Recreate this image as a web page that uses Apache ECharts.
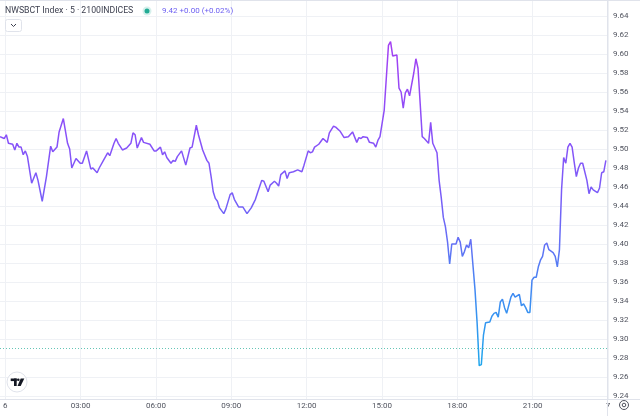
<!DOCTYPE html>
<html>
<head>
<meta charset="utf-8">
<script src="https://cdn.jsdelivr.net/npm/echarts@6/dist/echarts.min.js"></script>
<style>
  html, body { margin: 0; padding: 0; background: #fff; }
  #chart { width: 640px; height: 416px; }
</style>
</head>
<body>
<div id="chart"></div>
<script>
// 5 min bars
const times = [
  '00:00','00:10','00:15','00:20','00:30','00:35','00:40','00:45','00:50','00:55',
  '01:00','01:05','01:15','01:25','01:30','01:40','01:50','02:00','02:05','02:15',
  '02:20','02:30','02:40','02:45','02:50','03:00','03:10','03:15','03:25','03:35',
  '03:40','03:50','03:55','04:05','04:15','04:20','04:30','04:35','04:40','04:50',
  '05:00','05:10','05:15','05:20','05:25','05:35','05:40','05:55','06:05','06:10',
  '06:20','06:25','06:30','06:35','06:45','06:50','06:55','07:00','07:10','07:20',
  '07:30','07:35','07:45','07:50','08:00','08:10','08:15','08:20','08:25','08:30',
  '08:35','08:40','08:50','08:55','09:05','09:10','09:15','09:25','09:35','09:45',
  '09:55','10:05','10:10','10:20','10:25','10:35','10:40','10:50','10:55','11:00',
  '11:05','11:15','11:20','11:25','11:35','11:45','11:55','12:00','12:10','12:15',
  '12:20','12:25','12:35','12:45','12:55','13:00','13:10','13:15','13:25','13:35',
  '13:45','13:55','14:05','14:10','14:15','14:20','14:30','14:35','14:45','14:50',
  '14:55','15:00','15:10','15:20','15:25','15:30','15:40','15:45','15:50','15:55',
  '16:00','16:05','16:10','16:20','16:25','16:30','16:40','16:45','16:55','17:00',
  '17:05','17:10','17:15','17:20','17:25','17:30','17:35','17:40','17:45','17:50',
  '18:00','18:05','18:10','18:15','18:20','18:25','18:30','18:35','18:45','18:50',
  '18:55','19:00','19:05','19:10','19:20','19:25','19:30','19:35','19:40','19:45',
  '19:50','19:55','20:00','20:10','20:15','20:20','20:30','20:35','20:40','20:45',
  '20:50','20:55','21:00','21:05','21:10','21:15','21:20','21:25','21:30','21:35',
  '21:40','21:50','21:55','22:00','22:05','22:10','22:15','22:20','22:25','22:30',
  '22:35','22:40','22:45','22:50','22:55','23:00','23:10','23:15','23:20','23:25',
  '23:35','23:40','23:45','23:50','23:55'
];
const values = [
  9.513, 9.511, 9.515, 9.506, 9.505, 9.499, 9.506, 9.502, 9.502, 9.494,
  9.498, 9.492, 9.464, 9.475, 9.467, 9.445, 9.471, 9.503, 9.497, 9.502,
  9.518, 9.532, 9.506, 9.500, 9.480, 9.490, 9.485, 9.485, 9.498, 9.479,
  9.480, 9.475, 9.480, 9.488, 9.496, 9.493, 9.506, 9.511, 9.506, 9.499,
  9.501, 9.506, 9.517, 9.515, 9.501, 9.512, 9.507, 9.505, 9.498, 9.498,
  9.502, 9.494, 9.497, 9.491, 9.485, 9.488, 9.487, 9.492, 9.498, 9.483,
  9.501, 9.502, 9.525, 9.515, 9.499, 9.488, 9.485, 9.471, 9.455, 9.448,
  9.445, 9.438, 9.432, 9.437, 9.452, 9.454, 9.447, 9.439, 9.439, 9.432,
  9.438, 9.447, 9.454, 9.467, 9.466, 9.455, 9.462, 9.466, 9.464, 9.461,
  9.473, 9.477, 9.469, 9.475, 9.476, 9.478, 9.476, 9.483, 9.498, 9.496,
  9.497, 9.502, 9.505, 9.511, 9.507, 9.517, 9.524, 9.523, 9.519, 9.512,
  9.513, 9.518, 9.507, 9.512, 9.511, 9.513, 9.512, 9.507, 9.506, 9.502,
  9.509, 9.513, 9.541, 9.609, 9.613, 9.598, 9.599, 9.564, 9.560, 9.543,
  9.559, 9.563, 9.556, 9.580, 9.595, 9.585, 9.513, 9.511, 9.506, 9.528,
  9.506, 9.501, 9.496, 9.467, 9.449, 9.428, 9.418, 9.402, 9.379, 9.400,
  9.400, 9.407, 9.402, 9.387, 9.392, 9.399, 9.396, 9.405, 9.352, 9.317,
  9.272, 9.273, 9.304, 9.317, 9.318, 9.324, 9.327, 9.328, 9.323, 9.339,
  9.342, 9.333, 9.327, 9.344, 9.348, 9.344, 9.347, 9.335, 9.337, 9.333,
  9.328, 9.328, 9.362, 9.365, 9.365, 9.376, 9.383, 9.387, 9.399, 9.401,
  9.394, 9.391, 9.387, 9.376, 9.394, 9.457, 9.491, 9.485, 9.502, 9.506,
  9.502, 9.486, 9.471, 9.480, 9.485, 9.485, 9.467, 9.453, 9.460, 9.457,
  9.454, 9.459, 9.475, 9.476, 9.488
];
const refLevel = 9.29; // dotted teal line
const yMin = 9.24, yMax = 9.64, yStep = 0.02;
const dayStart = '6', dayEnd = '7';
const title = 'NWSBCT Index · 5 · 2100INDICES';
const lastText = '9.42 +0.00 (+0.02%)';

const toMin = (t) => {
  const p = t.split(':');
  return (+p[0]) * 60 + (+p[1]);
};
const seriesData = times.map((t, i) => [toMin(t), values[i]]);

const chart = echarts.init(document.getElementById('chart'), null, { renderer: 'canvas' });
const gridColor = '#eff1f5';
const labelColor = '#50535e';
const font = 'Roboto, "Noto Sans", sans-serif';

const option = {
  animation: false,
  backgroundColor: '#ffffff',
  grid: [
    { left: 0, right: 32, top: 0, bottom: 17 },
    { left: 0, right: 32, top: 16, bottom: 20 },
  ],
  xAxis: [
    {
      gridIndex: 0,
      type: 'value',
      min: 0,
      max: 1440,
      interval: 180,
      axisLine: { show: false },
      axisTick: { show: false },
      splitLine: { show: true, lineStyle: { color: gridColor, width: 1 } },
      axisLabel: {
        show: true,
        margin: 3,
        color: labelColor,
        fontSize: 8,
        fontFamily: font,
        showMinLabel: true,
        showMaxLabel: true,
        alignMinLabel: 'center',
        alignMaxLabel: 'center',
        formatter: (v) => {
          if (v === 0) return dayStart;
          if (v === 1440) return dayEnd;
          const h = Math.floor(v / 60);
          return (h < 10 ? '0' : '') + h + ':00';
        },
      },
    },
    {
      gridIndex: 1,
      type: 'value',
      min: 0,
      max: 1440,
      show: false,
    },
  ],
  yAxis: [
    { gridIndex: 0, type: 'value', min: 0, max: 1, show: false },
    {
      gridIndex: 1,
      type: 'value',
      position: 'right',
      min: yMin,
      max: yMax,
      interval: yStep,
      axisLine: { show: false },
      axisTick: { show: false },
      splitLine: { show: true, lineStyle: { color: gridColor, width: 1 } },
      axisLabel: {
        margin: 5,
        color: labelColor,
        fontSize: 8,
        fontFamily: font,
        formatter: (v) => v.toFixed(2),
      },
    },
  ],
  series: [
    {
      type: 'line',
      xAxisIndex: 1,
      yAxisIndex: 1,
      data: seriesData,
      symbol: 'none',
      smooth: false,
      lineStyle: {
        width: 1.5,
        color: new echarts.graphic.LinearGradient(0, 0, 0, 1, [
          { offset: 0, color: '#a43ff2' },
          { offset: 0.27, color: '#8b50f8' },
          { offset: 0.47, color: '#7a5cf8' },
          { offset: 0.62, color: '#6470f5' },
          { offset: 0.78, color: '#3f8bf2' },
          { offset: 1, color: '#20a8ec' },
        ]),
      },
      markLine: {
        silent: true,
        symbol: 'none',
        label: { show: false },
        lineStyle: { color: '#3fb8a4', type: [1, 2], width: 1, opacity: 0.8 },
        data: [{ yAxis: refLevel }],
      },
    },
  ],
  graphic: [
    // top border
    { type: 'rect', shape: { x: 0, y: 0, width: 640, height: 1 }, style: { fill: '#e0e3eb' }, z: 10 },
    // price axis separator
    { type: 'line', shape: { x1: 607.5, y1: 0, x2: 607.5, y2: 416 }, style: { stroke: '#e0e3eb', lineWidth: 1 }, z: 10 },
    // time axis separator
    { type: 'line', shape: { x1: 0, y1: 399.5, x2: 640, y2: 399.5 }, style: { stroke: '#e0e3eb', lineWidth: 1 }, z: 10 },
    // header
    {
      type: 'text', left: 5, top: 6, z: 10,
      style: { text: title, fill: '#3e4150', fontSize: 8.7, fontFamily: font },
    },
    { type: 'circle', shape: { cx: 147, cy: 11, r: 4.5 }, style: { fill: '#d6f0ec' }, z: 10 },
    { type: 'circle', shape: { cx: 147, cy: 11, r: 2.5 }, style: { fill: '#22ab94' }, z: 11 },
    {
      type: 'text', left: 162, top: 6.5, z: 10,
      style: { text: lastText, fill: '#6c5ff2', fontSize: 8, fontFamily: font },
    },
    // collapse button
    {
      type: 'rect', shape: { x: 5.5, y: 19.5, width: 16, height: 12, r: 2 },
      style: { fill: '#ffffff', stroke: '#e0e3eb', lineWidth: 1 }, z: 10,
    },
    {
      type: 'polyline', shape: { points: [[11, 24], [13.5, 26.5], [16, 24]] },
      style: { stroke: '#3e4150', lineWidth: 1, fill: null }, z: 11,
    },
    // logo
    { type: 'circle', shape: { cx: 17, cy: 382, r: 10 }, style: { fill: '#ffffff', stroke: '#e0e3eb', lineWidth: 1 }, z: 10 },
    { type: 'rect', shape: { x: 10.7, y: 378.5, width: 6, height: 2.6 }, style: { fill: '#131722' }, z: 11 },
    { type: 'rect', shape: { x: 14, y: 378.5, width: 2.7, height: 7.5 }, style: { fill: '#131722' }, z: 11 },
    { type: 'circle', shape: { cx: 18.3, cy: 379.8, r: 1.3 }, style: { fill: '#131722' }, z: 11 },
    {
      type: 'polygon', shape: { points: [[20.7, 378.5], [24.3, 378.5], [20.7, 386], [17.5, 386]] },
      style: { fill: '#131722' }, z: 11,
    },
    // settings icon
    { type: 'circle', shape: { cx: 624, cy: 405, r: 4.5 }, style: { fill: 'none', stroke: '#50535e', lineWidth: 1 }, z: 10 },
    { type: 'circle', shape: { cx: 624, cy: 405, r: 1.8 }, style: { fill: 'none', stroke: '#50535e', lineWidth: 1 }, z: 10 },
  ],
};

chart.setOption(option);
</script>
</body>
</html>
